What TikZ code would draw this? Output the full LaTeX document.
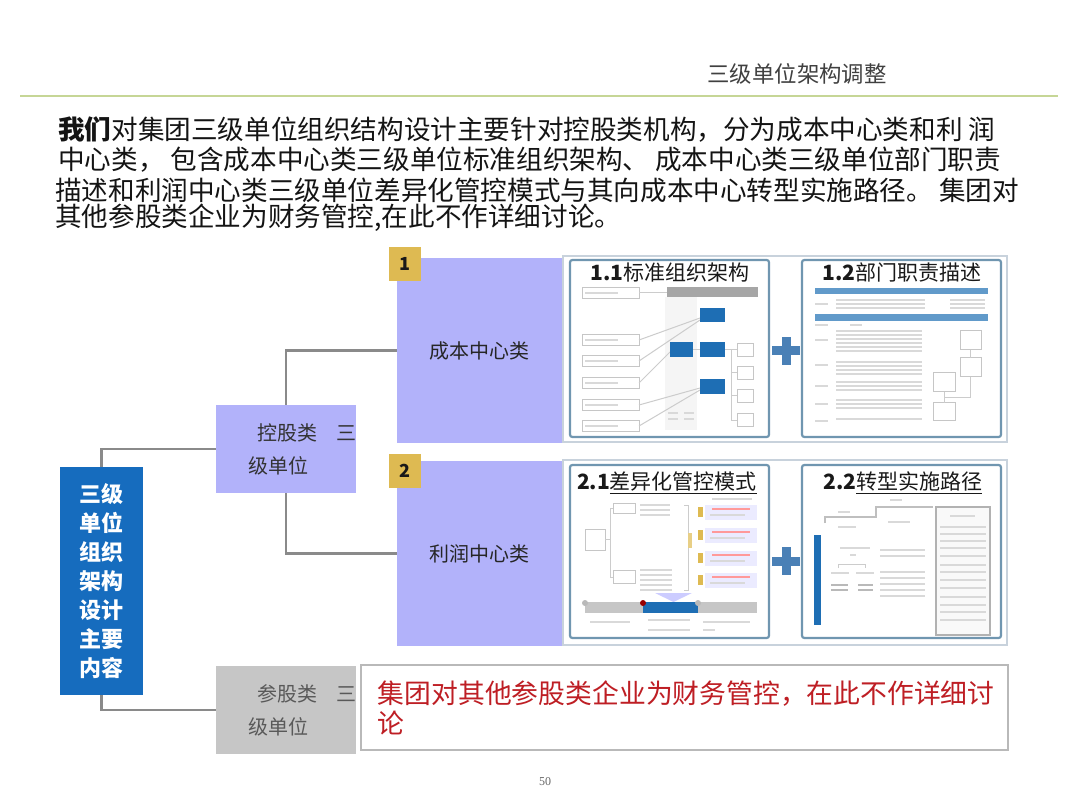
\documentclass[tikz,border=0pt]{standalone}
\usepackage{fontspec}
\setmainfont{Noto Sans CJK SC}
\newfontfamily\numfont{Liberation Serif}
\usepackage{xcolor}
\usetikzlibrary{positioning}
\definecolor{rootblue}{RGB}{22,108,190}
\definecolor{lav}{RGB}{178,178,250}
\definecolor{badgegold}{RGB}{222,186,82}
\definecolor{linegray}{RGB}{138,138,138}
\definecolor{panelline}{RGB}{200,210,220}
\definecolor{thumbframe}{RGB}{112,150,176}
\definecolor{plusblue}{RGB}{74,128,182}
\definecolor{thumbblue}{RGB}{30,110,180}
\definecolor{redtext}{RGB}{190,30,36}
\definecolor{rulegreen}{RGB}{198,214,150}

\begin{document}
\begin{tikzpicture}[x=0.25mm,y=-0.25mm,
  para/.style={anchor=west,inner sep=0pt,font=\fontsize{6.65mm}{7.5mm}\selectfont,text=black!92},
  rootbox/.style={fill=rootblue,text=white,align=center,minimum width=20.75mm,minimum height=57mm,inner sep=0pt,font=\bfseries\fontsize{5.5mm}{7.25mm}\selectfont},
  grpbox/.style={fill=lav,align=left,text width=19mm,inner xsep=8mm,inner ysep=0pt,minimum height=22mm,font=\fontsize{5mm}{8.25mm}\selectfont,text=black!80},
  catbox/.style={fill=lav,minimum width=41.25mm,minimum height=46.25mm,inner sep=0pt,font=\fontsize{5mm}{6mm}\selectfont,text=black!85},
  badge/.style={fill=badgegold,minimum width=8mm,minimum height=8.5mm,inner sep=0pt,font=\bfseries\fontsize{4.5mm}{5mm}\selectfont,text=black!90},
  panel/.style={draw=panelline,line width=0.3mm,fill=white,minimum width=111mm,inner sep=0pt},
  thumb/.style={draw=thumbframe,line width=0.55mm,rounded corners=0.6mm,fill=white,minimum width=49.75mm,inner sep=0pt},
  ttl/.style={inner sep=0pt,font=\fontsize{5.25mm}{6mm}\selectfont,text=black!90},
  link/.style={draw=linegray,line width=0.65mm},
  tbox/.style={draw=gray!45,line width=0.25mm},
  tline/.style={draw=gray!40,line width=0.25mm},
  scrib/.style={draw=gray!30,line width=0.35mm}
]
\useasboundingbox[fill=white] (0,0) rectangle (1080,810);

\node[inner sep=0pt,font=\fontsize{5.6mm}{6mm}\selectfont,text=black!75] (head) at (797,74) {三级单位架构调整};
\draw[rulegreen,line width=0.5mm] (20,96) -- (1058,96);

\node[para] (p1) at (58,130) {{\bfseries 我们}对集团三级单位组织结构设计主要针对控股类机构，分为成本中心类和利 润};
\node[para] (p2) at (58,160) {中心类， 包含成本中心类三级单位标准组织架构、 成本中心类三级单位部门职责};
\node[para] (p3) at (55,190) {描述和利润中心类三级单位差异化管控模式与其向成本中心转型实施路径。 集团对};
\node[para] (p4) at (55,218) {其他参股类企业为财务管控,在此不作详细讨论。};

\node[rootbox] (root) at (101.5,581) {三级\\单位\\组织\\架构\\设计\\主要\\内容};
\node[grpbox] (kg) at (286,449) {\mbox{\hspace*{2.25mm}控股类\hspace{5mm}三}\\级单位};
\node[grpbox,fill=gray!45,text=black!65] (cg) at (286,710) {\mbox{\hspace*{2.25mm}参股类\hspace{5mm}三}\\级单位};
\node[catbox] (cb) at (479.5,350.5) {成本中心类};
\node[catbox] (lr) at (479.5,553.5) {利润中心类};
\node[badge] (b1) at (405,264) {1};
\node[badge] (b2) at (405,471) {2};

\draw[link] (root.north) |- (kg.west);
\draw[link] (root.south) |- (cg.west);
\draw[link] (kg.north) |- (cb.west);
\draw[link] (kg.south) |- (lr.west);

\node[panel,minimum height=46.5mm] (op1) at (785,349) {};
\node[panel,minimum height=46.25mm] (op2) at (785,552.5) {};
\node[thumb,minimum height=44.25mm] (t11) at (669.5,348.5) {};
\node[thumb,minimum height=44.25mm] (t12) at (901.5,348.5) {};
\node[thumb,minimum height=43.25mm] (t21) at (669.5,551.5) {};
\node[thumb,minimum height=43.25mm] (t22) at (901.5,551.5) {};
\node[ttl] (t11t) at (670,273) {{\bfseries 1.1}标准组织架构};
\node[ttl] (t12t) at (902,273) {{\bfseries 1.2}部门职责描述};
\node[ttl] (t21t) at (667,483) {{\bfseries 2.1}\underline{差异化管控模式}};
\node[ttl] (t22t) at (903,483) {{\bfseries 2.2}\underline{转型实施路径}};

\foreach \py in {351,561}{
  \fill[plusblue] (772,\py-4.5) rectangle (800,\py+4.5);
  \fill[plusblue] (781.5,\py-14) rectangle (790.5,\py+14);
}

\fill[gray!8] (665,297) rectangle (697,430);
\fill[gray!70] (667,287) rectangle (758,297);
\foreach \y in {293,340,361,383,405,426}{
  \draw[tbox] (582,\y-5.5) rectangle (639,\y+5.5);
  \draw[scrib] (585,\y) -- (618,\y);
}
\draw[tline] (639,293) -- (667,293);
\draw[tline] (639,340) -- (700,318);
\draw[tline] (639,361) -- (700,320);
\draw[tline] (639,383) -- (670,352);
\draw[tline] (639,405) -- (700,388);
\draw[tline] (639,426) -- (700,390);
\draw[tline] (693,350) -- (700,350);
\draw[tline] (725,350) -- (737,350);
\draw[tline] (731,350) -- (731,420) -- (737,420);
\foreach \y in {373,396} \draw[tline] (731,\y) -- (737,\y);
\foreach \y in {350,373,396,420} \draw[tbox] (737,\y-6.5) rectangle (753,\y+6.5);
\fill[thumbblue] (700,308) rectangle (725,322);
\fill[thumbblue] (700,342) rectangle (725,357);
\fill[thumbblue] (700,379) rectangle (725,394);
\fill[thumbblue] (670,342) rectangle (693,357);
\foreach \y in {413,419} {\draw[scrib] (668,\y) -- (678,\y); \draw[scrib] (684,\y) -- (694,\y);}

\fill[thumbblue!70] (815,288) rectangle (988,294);
\fill[thumbblue!70] (815,314) rectangle (988,321);
\foreach \y in {300,304,308} {\draw[scrib] (836,\y) -- (925,\y); \draw[scrib] (950,\y) -- (985,\y);}
\draw[scrib] (815,304) -- (828,304);
\draw[scrib] (815,325) -- (828,325);
\draw[scrib] (850,325) -- (862,325);
\foreach \y in {340,365,386,404,421} \draw[scrib] (815,\y) -- (828,\y);
\foreach \y in {331,335,339,343,347,351,362,366,370,374,382,386,390,400,404,408,419} \draw[scrib] (836,\y) -- (922,\y);
\draw[tbox] (960,331) rectangle (981,350);
\draw[tbox] (960,358) rectangle (981,377);
\draw[tbox] (933,373) rectangle (955,392);
\draw[tbox] (933,403) rectangle (955,420);
\draw[tline] (970.5,350) -- (970.5,358);
\draw[tline] (970.5,377) -- (970.5,398) -- (944,398);
\draw[tline] (944,392) -- (944,403);

\draw[tbox] (585,529) rectangle (605,550);
\draw[tline] (605,539.5) -- (610,539.5);
\draw[tline] (613,508) -- (610,508) -- (610,577) -- (613,577);
\draw[tbox] (613,503) rectangle (635,513);
\draw[tbox] (613,570) rectangle (635,583);
\draw[tline] (684,505) -- (688,505) -- (688,590) -- (684,590);
\fill[badgegold!70] (688,533) rectangle (692,548);
\foreach \y in {505,510,515} \draw[scrib] (640,\y) -- (670,\y);
\foreach \y in {570,575,580,585,590} \draw[scrib] (640,\y) -- (672,\y);
\draw[scrib] (712,499) -- (752,499);
\foreach \y in {512,535,558,580}{
  \fill[blue!8] (705,\y-7.5) rectangle (757,\y+7.5);
  \fill[badgegold] (698,\y-5) rectangle (703,\y+5);
  \draw[scrib,draw=red!40] (712,\y-3) -- (750,\y-3);
  \draw[scrib] (710,\y+3) -- (745,\y+3);
}
\fill[blue!20] (655,593) -- (692,593) -- (673.5,602) -- cycle;
\fill[gray!45] (585,602) rectangle (643,613);
\fill[thumbblue] (643,602) rectangle (698,613);
\fill[gray!45] (698,602) rectangle (757,613);
\fill[gray!55] (585,603) circle (3);
\fill[red!60!black] (643,603) circle (3);
\fill[gray!55] (698,603) circle (3);
\draw[scrib] (590,622) -- (630,622);
\draw[scrib] (648,620) -- (690,620);
\draw[scrib] (648,630) -- (690,630);
\draw[scrib] (703,622) -- (750,622);
\draw[scrib] (703,630) -- (715,630);

\fill[thumbblue] (814,535) rectangle (821,625);
\draw[gray!50,line width=0.3mm] (825,523) -- (825,517) -- (876,517) -- (876,507) -- (933,507);
\draw[scrib] (838,512) -- (850,512);
\draw[scrib] (890,500) -- (902,500);
\draw[scrib] (838,527) -- (856,527);
\draw[scrib] (888,522) -- (910,522);
\draw[scrib] (840,548) -- (870,548);
\draw[scrib] (850,555) -- (856,555);
\draw[tline] (838,568) -- (838,564) -- (865,564) -- (865,568);
\draw[scrib] (831,573) -- (849,573);
\draw[scrib] (856,573) -- (874,573);
\foreach \y in {585,590} {\draw[scrib,draw=gray!55] (831,\y) -- (848,\y); \draw[scrib,draw=gray!55] (858,\y) -- (873,\y);}
\foreach \y in {550,556,572,578,584,590,596} \draw[scrib] (880,\y) -- (925,\y);
\draw[gray!60,line width=0.5mm,fill=gray!5] (936,507) rectangle (990,635);
\draw[scrib] (950,516) -- (975,516);
\foreach \y in {527,534,541,548,556,565,572,580,588,597,605,612,620} \draw[scrib] (940,\y) -- (986,\y);

\node[draw=gray!55,line width=0.3mm,fill=white,align=left,text width=153.25mm,inner xsep=4.25mm,inner ysep=0pt,minimum height=21.25mm,font=\fontsize{6.7mm}{7.5mm}\selectfont,text=redtext] (rk) at (684.5,707.5) {集团对其他参股类企业为财务管控，在此不作详细讨\\论};

\node[inner sep=0pt,font=\numfont\fontsize{3mm}{3.5mm}\selectfont,text=black!60] (pg) at (545,782) {50};
\end{tikzpicture}
\end{document}
